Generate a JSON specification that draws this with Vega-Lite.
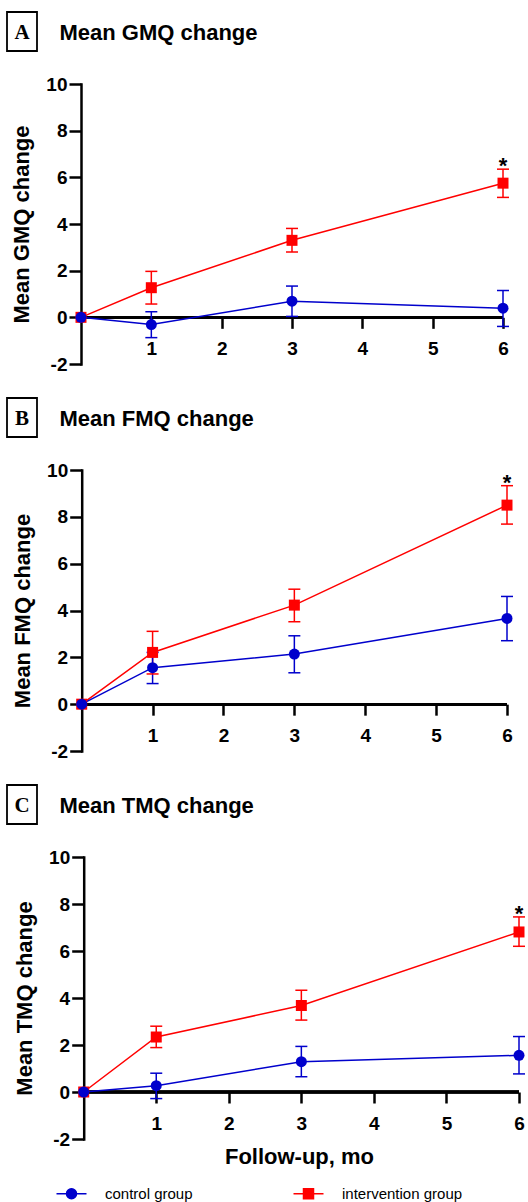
{
  "$schema": "https://vega.github.io/schema/vega-lite/v6.json",
  "padding": {"left": 6, "top": 11, "right": 0, "bottom": 0},
  "background": "white",
  "spacing": 23,
  "datasets": {
    "main": [
      {"panel": "A", "group": "intervention group", "month": 0, "mean": 0, "lo": null, "hi": null, "sig": ""},
      {"panel": "A", "group": "intervention group", "month": 1, "mean": 1.27, "lo": 0.57, "hi": 1.97, "sig": ""},
      {"panel": "A", "group": "intervention group", "month": 3, "mean": 3.3, "lo": 2.8, "hi": 3.81, "sig": ""},
      {"panel": "A", "group": "intervention group", "month": 6, "mean": 5.75, "lo": 5.14, "hi": 6.35, "sig": "*"},
      {"panel": "A", "group": "control group", "month": 0, "mean": 0, "lo": null, "hi": null, "sig": ""},
      {"panel": "A", "group": "control group", "month": 1, "mean": -0.31, "lo": -0.87, "hi": 0.24, "sig": ""},
      {"panel": "A", "group": "control group", "month": 3, "mean": 0.69, "lo": 0.04, "hi": 1.34, "sig": ""},
      {"panel": "A", "group": "control group", "month": 6, "mean": 0.39, "lo": -0.39, "hi": 1.15, "sig": ""},
      {"panel": "B", "group": "intervention group", "month": 0, "mean": 0, "lo": null, "hi": null, "sig": ""},
      {"panel": "B", "group": "intervention group", "month": 1, "mean": 2.21, "lo": 1.29, "hi": 3.11, "sig": ""},
      {"panel": "B", "group": "intervention group", "month": 3, "mean": 4.23, "lo": 3.52, "hi": 4.91, "sig": ""},
      {"panel": "B", "group": "intervention group", "month": 6, "mean": 8.5, "lo": 7.69, "hi": 9.33, "sig": "*"},
      {"panel": "B", "group": "control group", "month": 0, "mean": 0, "lo": null, "hi": null, "sig": ""},
      {"panel": "B", "group": "control group", "month": 1, "mean": 1.56, "lo": 0.88, "hi": 2.21, "sig": ""},
      {"panel": "B", "group": "control group", "month": 3, "mean": 2.14, "lo": 1.34, "hi": 2.92, "sig": ""},
      {"panel": "B", "group": "control group", "month": 6, "mean": 3.66, "lo": 2.71, "hi": 4.6, "sig": ""},
      {"panel": "C", "group": "intervention group", "month": 0, "mean": 0, "lo": null, "hi": null, "sig": ""},
      {"panel": "C", "group": "intervention group", "month": 1, "mean": 2.34, "lo": 1.89, "hi": 2.8, "sig": ""},
      {"panel": "C", "group": "intervention group", "month": 3, "mean": 3.68, "lo": 3.06, "hi": 4.33, "sig": ""},
      {"panel": "C", "group": "intervention group", "month": 6, "mean": 6.81, "lo": 6.2, "hi": 7.45, "sig": "*"},
      {"panel": "C", "group": "control group", "month": 0, "mean": 0, "lo": null, "hi": null, "sig": ""},
      {"panel": "C", "group": "control group", "month": 1, "mean": 0.27, "lo": -0.28, "hi": 0.8, "sig": ""},
      {"panel": "C", "group": "control group", "month": 3, "mean": 1.29, "lo": 0.65, "hi": 1.94, "sig": ""},
      {"panel": "C", "group": "control group", "month": 6, "mean": 1.56, "lo": 0.77, "hi": 2.36, "sig": ""}
    ]
  },
  "resolve": {"scale": {"x": "independent", "y": "independent"}},
  "vconcat": [
    {
      "spacing": 21,
      "hconcat": [
        {
          "width": 30, "height": 39,
          "view": {"stroke": "black", "strokeWidth": 1.8, "fill": "white"},
          "data": {"values": [{"letter": "A"}]},
          "mark": {"type": "text", "font": "Liberation Serif", "fontSize": 21, "fontWeight": "bold", "baseline": "middle", "align": "center", "color": "black", "dy": 1},
          "encoding": {"text": {"field": "letter"}}
        },
        {
          "width": 1, "height": 39,
          "data": {"values": [{"label": "Mean GMQ change"}]},
          "mark": {"type": "text", "font": "Liberation Sans", "fontSize": 22, "fontWeight": "bold", "baseline": "middle", "align": "left", "color": "black", "dy": 1},
          "encoding": {"text": {"field": "label"}}
        }
      ]
    },
    {
      "width": 496, "height": 280,
      "data": {"name": "main"},
      "transform": [{"filter": "datum.panel === 'A'"}],
      "encoding": {
        "x": {"field": "month", "type": "quantitative", "scale": {"domain": [-1.052, 6], "nice": false, "zero": false}, "title": null, "axis": {"values": [1, 2, 3, 4, 5, 6]}},
        "color": {"field": "group", "type": "nominal", "scale": {"domain": ["control group", "intervention group"], "range": ["#0000CC", "#FF0000"]}, "legend": null}
      },
      "layer": [
        {"mark": {"type": "point", "filled": false, "opacity": 0, "size": 1}, "encoding": {"y": {"field": "mean", "type": "quantitative", "title": "Mean GMQ change"},
          "shape": {"field": "group", "type": "nominal", "scale": {"domain": ["control group", "intervention group"], "range": [
            "M-3,0H3M1,0A1,1,0,1,1,-1,0A1,1,0,1,1,1,0M0.7,0A0.7,0.7,0,1,1,-0.7,0A0.7,0.7,0,1,1,0.7,0M0.4,0A0.4,0.4,0,1,1,-0.4,0A0.4,0.4,0,1,1,0.4,0M0.12,0A0.12,0.12,0,1,1,-0.12,0A0.12,0.12,0,1,1,0.12,0",
            "M-3,0H3M-1,-1H1V1H-1ZM-0.7,-0.7H0.7V0.7H-0.7ZM-0.4,-0.4H0.4V0.4H-0.4ZM-0.12,-0.12H0.12V0.12H-0.12Z"]},
            "legend": {"title": null}},
          "color": {"field": "group", "type": "nominal", "scale": {"domain": ["control group", "intervention group"], "range": ["#0000CC", "#FF0000"]},
            "legend": {
              "orient": "none", "legendX": 57, "legendY": 1174, "direction": "horizontal", "title": null,
              "symbolSize": 100, "labelOffset": 26, "columnPadding": 97, "labelFontSize": 15, "labelFont": "Liberation Sans", "labelColor": "black", "padding": 0, "symbolOpacity": 1, "symbolStrokeWidth": 1.5
            }}}},
        {"mark": {"type": "rule", "strokeWidth": 2.5}, "encoding": {"x": {"datum": 0, "title": null}, "x2": {"datum": 6}, "y": {"datum": 0, "title": "Mean GMQ change"}, "color": {"value": "black"}}},
        {"mark": {"type": "line", "strokeWidth": 1.5}, "encoding": {"y": {"field": "mean", "type": "quantitative", "scale": {"domain": [-2, 10], "nice": false}, "title": "Mean GMQ change", "axis": {"values": [-2, 0, 2, 4, 6, 8, 10], "offset": -74}}}},
        {"mark": {"type": "rule", "strokeWidth": 1.5}, "encoding": {"y": {"field": "lo", "type": "quantitative", "title": "Mean GMQ change"}, "y2": {"field": "hi"}}},
        {"mark": {"type": "tick", "orient": "horizontal", "size": 12, "thickness": 1.5, "opacity": 1}, "encoding": {"y": {"field": "lo", "type": "quantitative", "title": "Mean GMQ change"}}},
        {"mark": {"type": "tick", "orient": "horizontal", "size": 12, "thickness": 1.5, "opacity": 1}, "encoding": {"y": {"field": "hi", "type": "quantitative", "title": "Mean GMQ change"}}},
        {"transform": [{"filter": "datum.group === 'intervention group'"}], "mark": {"type": "point", "shape": "square", "filled": true, "opacity": 1, "size": 121}, "encoding": {"y": {"field": "mean", "type": "quantitative", "title": "Mean GMQ change"}}},
        {"transform": [{"filter": "datum.group === 'control group'"}], "mark": {"type": "point", "shape": "circle", "filled": true, "opacity": 1, "size": 121}, "encoding": {"y": {"field": "mean", "type": "quantitative", "title": "Mean GMQ change"}}},
        {"mark": {"type": "text", "fontSize": 22, "fontWeight": "bold", "baseline": "alphabetic", "align": "center", "dy": 4, "color": "black"}, "encoding": {"y": {"field": "hi", "type": "quantitative", "title": "Mean GMQ change"}, "text": {"field": "sig"}, "color": {"value": "black"}}}
      ]
    },
    {
      "spacing": 21,
      "hconcat": [
        {
          "width": 30, "height": 39,
          "view": {"stroke": "black", "strokeWidth": 1.8, "fill": "white"},
          "data": {"values": [{"letter": "B"}]},
          "mark": {"type": "text", "font": "Liberation Serif", "fontSize": 21, "fontWeight": "bold", "baseline": "middle", "align": "center", "color": "black", "dy": 1},
          "encoding": {"text": {"field": "letter"}}
        },
        {
          "width": 1, "height": 39,
          "data": {"values": [{"label": "Mean FMQ change"}]},
          "mark": {"type": "text", "font": "Liberation Sans", "fontSize": 22, "fontWeight": "bold", "baseline": "middle", "align": "left", "color": "black", "dy": 1},
          "encoding": {"text": {"field": "label"}}
        }
      ]
    },
    {
      "width": 500, "height": 281,
      "data": {"name": "main"},
      "transform": [{"filter": "datum.panel === 'B'"}],
      "encoding": {
        "x": {"field": "month", "type": "quantitative", "scale": {"domain": [-1.0539, 6], "nice": false, "zero": false}, "title": null, "axis": {"values": [1, 2, 3, 4, 5, 6], "offset": -46.83}},
        "color": {"field": "group", "type": "nominal", "scale": {"domain": ["control group", "intervention group"], "range": ["#0000CC", "#FF0000"]}, "legend": null}
      },
      "layer": [
        {"mark": {"type": "rule", "strokeWidth": 2.5}, "encoding": {"x": {"datum": 0, "title": null}, "x2": {"datum": 6}, "y": {"datum": 0, "title": "Mean FMQ change"}, "color": {"value": "black"}}},
        {"mark": {"type": "line", "strokeWidth": 1.5}, "encoding": {"y": {"field": "mean", "type": "quantitative", "scale": {"domain": [-2, 10], "nice": false}, "title": "Mean FMQ change", "axis": {"values": [-2, 0, 2, 4, 6, 8, 10], "offset": -74.7}}}},
        {"mark": {"type": "rule", "strokeWidth": 1.5}, "encoding": {"y": {"field": "lo", "type": "quantitative", "title": "Mean FMQ change"}, "y2": {"field": "hi"}}},
        {"mark": {"type": "tick", "orient": "horizontal", "size": 12, "thickness": 1.5, "opacity": 1}, "encoding": {"y": {"field": "lo", "type": "quantitative", "title": "Mean FMQ change"}}},
        {"mark": {"type": "tick", "orient": "horizontal", "size": 12, "thickness": 1.5, "opacity": 1}, "encoding": {"y": {"field": "hi", "type": "quantitative", "title": "Mean FMQ change"}}},
        {"transform": [{"filter": "datum.group === 'intervention group'"}], "mark": {"type": "point", "shape": "square", "filled": true, "opacity": 1, "size": 121}, "encoding": {"y": {"field": "mean", "type": "quantitative", "title": "Mean FMQ change"}}},
        {"transform": [{"filter": "datum.group === 'control group'"}], "mark": {"type": "point", "shape": "circle", "filled": true, "opacity": 1, "size": 121}, "encoding": {"y": {"field": "mean", "type": "quantitative", "title": "Mean FMQ change"}}},
        {"mark": {"type": "text", "fontSize": 22, "fontWeight": "bold", "baseline": "alphabetic", "align": "center", "dy": 4, "color": "black"}, "encoding": {"y": {"field": "hi", "type": "quantitative", "title": "Mean FMQ change"}, "text": {"field": "sig"}, "color": {"value": "black"}}}
      ]
    },
    {
      "spacing": 21,
      "hconcat": [
        {
          "width": 30, "height": 39,
          "view": {"stroke": "black", "strokeWidth": 1.8, "fill": "white"},
          "data": {"values": [{"letter": "C"}]},
          "mark": {"type": "text", "font": "Liberation Serif", "fontSize": 21, "fontWeight": "bold", "baseline": "middle", "align": "center", "color": "black", "dy": 1},
          "encoding": {"text": {"field": "letter"}}
        },
        {
          "width": 1, "height": 39,
          "data": {"values": [{"label": "Mean TMQ change"}]},
          "mark": {"type": "text", "font": "Liberation Sans", "fontSize": 22, "fontWeight": "bold", "baseline": "middle", "align": "left", "color": "black", "dy": 1},
          "encoding": {"text": {"field": "label"}}
        }
      ]
    },
    {
      "width": 512, "height": 282,
      "data": {"name": "main"},
      "transform": [{"filter": "datum.panel === 'C'"}],
      "encoding": {
        "x": {"field": "month", "type": "quantitative", "scale": {"domain": [-1.0572, 6], "nice": false, "zero": false}, "title": "Follow-up, mo", "axis": {"values": [1, 2, 3, 4, 5, 6], "offset": -47, "titleX": 292}},
        "color": {"field": "group", "type": "nominal", "scale": {"domain": ["control group", "intervention group"], "range": ["#0000CC", "#FF0000"]}, "legend": null}
      },
      "layer": [
        {"mark": {"type": "rule", "strokeWidth": 2.5}, "encoding": {"x": {"datum": 0, "title": "Follow-up, mo"}, "x2": {"datum": 6}, "y": {"datum": 0, "title": "Mean TMQ change"}, "color": {"value": "black"}}},
        {"mark": {"type": "line", "strokeWidth": 1.5}, "encoding": {"y": {"field": "mean", "type": "quantitative", "scale": {"domain": [-2, 10], "nice": false}, "title": "Mean TMQ change", "axis": {"values": [-2, 0, 2, 4, 6, 8, 10], "offset": -76.7}}}},
        {"mark": {"type": "rule", "strokeWidth": 1.5}, "encoding": {"y": {"field": "lo", "type": "quantitative", "title": "Mean TMQ change"}, "y2": {"field": "hi"}}},
        {"mark": {"type": "tick", "orient": "horizontal", "size": 12, "thickness": 1.5, "opacity": 1}, "encoding": {"y": {"field": "lo", "type": "quantitative", "title": "Mean TMQ change"}}},
        {"mark": {"type": "tick", "orient": "horizontal", "size": 12, "thickness": 1.5, "opacity": 1}, "encoding": {"y": {"field": "hi", "type": "quantitative", "title": "Mean TMQ change"}}},
        {"transform": [{"filter": "datum.group === 'intervention group'"}], "mark": {"type": "point", "shape": "square", "filled": true, "opacity": 1, "size": 121}, "encoding": {"y": {"field": "mean", "type": "quantitative", "title": "Mean TMQ change"}}},
        {"transform": [{"filter": "datum.group === 'control group'"}], "mark": {"type": "point", "shape": "circle", "filled": true, "opacity": 1, "size": 121}, "encoding": {"y": {"field": "mean", "type": "quantitative", "title": "Mean TMQ change"}}},
        {"mark": {"type": "text", "fontSize": 22, "fontWeight": "bold", "baseline": "alphabetic", "align": "center", "dy": 4, "color": "black"}, "encoding": {"y": {"field": "hi", "type": "quantitative", "title": "Mean TMQ change"}, "text": {"field": "sig"}, "color": {"value": "black"}}}
      ]
    }
  ],
  "config": {
    "font": "Liberation Sans",
    "view": {"stroke": null},
    "axis": {"grid": false, "domainColor": "black", "tickColor": "black", "labelColor": "black", "titleColor": "black", "domainWidth": 2.5, "tickWidth": 2.5, "labelFont": "Liberation Sans", "labelFontWeight": "bold", "labelFontSize": 19, "titleFont": "Liberation Sans", "titleFontWeight": "bold", "titleFontSize": 22, "labelFlush": false, "labelOverlap": false, "domainCap": "square"},
    "axisX": {"offset": -46.67, "domain": false, "tickSize": 11, "labelPadding": 11, "titlePadding": 13, "labelExpr": "'' + datum.value"},
    "axisY": {"tickSize": 12, "labelPadding": 2, "titlePadding": 12, "labelExpr": "'' + datum.value"}
  }
}
